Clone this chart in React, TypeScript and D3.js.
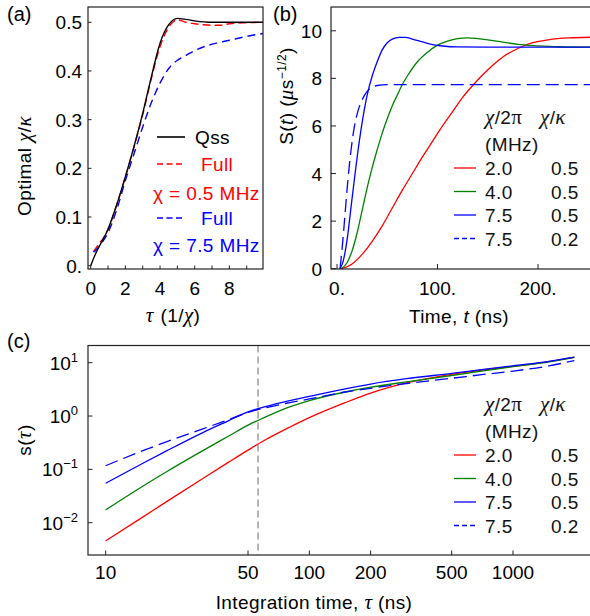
import React from "react";
import * as d3 from "d3";

// ---------- Panel (a) data ----------
const aQssTau = [0, 0.25, 0.5, 1, 1.5, 2, 2.5, 3, 3.5, 4, 4.5, 5, 5.5, 6, 7, 8, 9, 9.94];
const aQss = [0, 0.022, 0.04, 0.075, 0.125, 0.183, 0.245, 0.313, 0.388, 0.457, 0.495, 0.508, 0.506, 0.503, 0.5, 0.5, 0.5, 0.5];
const aRedTau = [0.15, 0.3, 0.5, 0.7, 1, 1.5, 2, 2.5, 3, 3.5, 4, 4.5, 5, 5.5, 6, 6.5, 7, 7.5, 8, 9, 9.94];
const aRed = [0.028, 0.036, 0.046, 0.055, 0.075, 0.125, 0.182, 0.244, 0.31, 0.385, 0.45, 0.49, 0.505, 0.5, 0.497, 0.495, 0.494, 0.494, 0.497, 0.499, 0.5];
const aBlueTau = [0.2, 0.4, 0.6, 1, 1.5, 2, 2.5, 3, 3.5, 4, 4.5, 5, 5.5, 6, 7, 8, 9, 9.94];
const aBlue = [0.028, 0.036, 0.045, 0.068, 0.115, 0.175, 0.23, 0.285, 0.335, 0.375, 0.405, 0.422, 0.432, 0.442, 0.455, 0.463, 0.471, 0.477];
const aXTicks = [0, 2, 4, 6, 8];
const aXMinor = [1, 3, 5, 7, 9];
const aYTicks = [0, 0.1, 0.2, 0.3, 0.4, 0.5];
const aYLabels = ["0.", "0.1", "0.2", "0.3", "0.4", "0.5"];

// ---------- Panel (b) data ----------
const bRedT = [5, 15, 25, 35, 45, 55, 65, 75, 85, 95, 105, 115, 125, 135, 145, 155, 165, 175, 185, 195, 210, 230, 255];
const bRed = [0, 0.2, 0.6, 1.15, 1.8, 2.55, 3.3, 4.0, 4.7, 5.35, 6.0, 6.6, 7.2, 7.7, 8.15, 8.55, 8.9, 9.15, 9.35, 9.5, 9.62, 9.7, 9.73];
const bGreenT = [4, 10, 15, 20, 25, 30, 35, 40, 45, 50, 55, 60, 65, 70, 80, 90, 100, 110, 120, 130, 140, 150, 165, 180, 200, 220, 255];
const bGreen = [0, 0.25, 0.75, 1.5, 2.45, 3.4, 4.25, 5.0, 5.7, 6.3, 6.85, 7.3, 7.74, 8.1, 8.7, 9.1, 9.4, 9.57, 9.67, 9.7, 9.67, 9.62, 9.52, 9.43, 9.37, 9.33, 9.31];
const bBlueT = [3, 6, 10, 14, 18, 22, 26, 30, 35, 40, 45, 50, 55, 62, 68, 75, 85, 95, 105, 120, 150, 255];
const bBlue = [0, 0.3, 1.2, 2.6, 4.0, 5.3, 6.4, 7.3, 8.1, 8.7, 9.2, 9.5, 9.65, 9.72, 9.72, 9.65, 9.53, 9.42, 9.36, 9.32, 9.31, 9.31];
const bDashT = [3, 5, 8, 11, 14, 17, 20, 25, 30, 35, 40, 50, 255];
const bDash = [0, 0.8, 2.3, 3.8, 5.0, 5.9, 6.5, 7.1, 7.45, 7.62, 7.7, 7.74, 7.74];
const bXTicks = [0, 100, 200];
const bXLabels = ["0.", "100.", "200."];
const bYTicks = [0, 2, 4, 6, 8, 10];

// ---------- Panel (c) data ----------
const cTau = [10, 15, 20, 30, 40, 50, 60, 80, 100, 150, 200, 300, 500, 700, 1000, 1500, 2000];
const cRed = [0.00457, 0.0123, 0.0251, 0.0676, 0.135, 0.229, 0.347, 0.617, 0.933, 1.78, 2.69, 4.17, 6.03, 7.24, 8.51, 10.5, 12.6];
const cGreen = [0.0174, 0.0468, 0.0912, 0.224, 0.417, 0.676, 0.933, 1.48, 1.95, 2.82, 3.47, 4.37, 5.75, 6.92, 8.41, 10.35, 12.6];
const cBlue = [0.055, 0.126, 0.224, 0.49, 0.813, 1.2, 1.48, 1.95, 2.34, 3.24, 3.98, 5.01, 6.3, 7.4, 8.75, 10.6, 12.7];
const cDash = [0.117, 0.219, 0.331, 0.575, 0.851, 1.17, 1.41, 1.78, 2.09, 2.82, 3.31, 4.07, 5.1, 5.95, 6.95, 8.71, 10.96];
const cVLine = 56;
const cXTicks = [10, 50, 100, 200, 500, 1000];
const cYExps = [1, 0, -1, -2];

// ---------- Legend data ----------
const legChi = ["2.0", "4.0", "7.5", "7.5"];
const legRatio = ["0.5", "0.5", "0.5", "0.2"];
const legColors = ["#ff0000", "#008000", "#0000ff", "#0000ff"];
const legDashed = [false, false, false, true];

const F = "'Liberation Sans', Arial, Helvetica, sans-serif";
const SERIF = "'Liberation Serif', 'DejaVu Serif', serif";
const FS = 19;
const LS = 0.4;
const GS = 21; // greek symbol size
const AX = "#222";

function zip(xs: number[], ys: number[]): [number, number][] {
  return xs.map((x, i) => [x, ys[i]]);
}

function Legend({ top }: { top: number }) {
  const x0 = 454, x1 = 476, tx = 485, tx2 = 551;
  return (
    <g fontFamily={F} fontSize={FS} fill="#111" letterSpacing={LS}>
      <text x={tx} y={top + 6}>
        <tspan fontFamily={SERIF} fontStyle="italic" fontSize={GS}>χ</tspan>
        <tspan>/2</tspan>
        <tspan fontFamily={SERIF} fontSize={GS}>π</tspan>
      </text>
      <text x={540} y={top + 6}>
        <tspan fontFamily={SERIF} fontStyle="italic" fontSize={GS}>χ</tspan>
        <tspan>/</tspan>
        <tspan fontFamily={SERIF} fontStyle="italic" fontSize={GS}>κ</tspan>
      </text>
      <text x={tx} y={top + 33}>(MHz)</text>
      {legChi.map((c, i) => {
        const y = top + 50 + i * 23.5;
        return (
          <g key={i}>
            <line x1={x0} x2={x1} y1={y} y2={y} stroke={legColors[i]} strokeWidth={1.3}
              strokeDasharray={legDashed[i] ? "5,3" : undefined} />
            <text x={tx} y={y + 7}>{c}</text>
            <text x={tx2} y={y + 7}>{legRatio[i]}</text>
          </g>
        );
      })}
    </g>
  );
}

export default function App() {
  // Panel a scales
  const ax = d3.scaleLinear().domain([-0.156, 9.94]).range([88, 263]);
  const ay = d3.scaleLinear().domain([-0.0068, 0.5314]).range([269, 7]);
  const aLine = d3.line<[number, number]>().x(d => ax(d[0])).y(d => ay(d[1])).curve(d3.curveMonotoneX);

  // Panel b scales
  const bx = d3.scaleLinear().domain([-5.97, 253.7]).range([331, 592]);
  const by = d3.scaleLinear().domain([-0.0126, 11.0]).range([269, 7]);
  const bLine = d3.line<[number, number]>().x(d => bx(d[0])).y(d => by(d[1])).curve(d3.curveMonotoneX);

  // Panel c scales
  const cx = d3.scaleLog().domain([8.19, 2443]).range([88, 592]);
  const cy = d3.scaleLog().domain([0.00248, 21.0]).range([555, 345.5]);
  const cLine = d3.line<[number, number]>().x(d => cx(d[0])).y(d => cy(d[1])).curve(d3.curveMonotoneX);

  return (
    <svg width={590} height={616} style={{ position: "absolute", left: 0, top: 0, background: "#fff" }}
      fontFamily={F} fontSize={FS}>
      <defs>
        <clipPath id="clipA"><rect x={88} y={7} width={175} height={262} /></clipPath>
        <clipPath id="clipB"><rect x={331} y={7} width={261} height={262} /></clipPath>
        <clipPath id="clipC"><rect x={88} y={345.5} width={504} height={209.5} /></clipPath>
      </defs>

      {/* ---------------- Panel (a) ---------------- */}
      <text x={7} y={21} fontSize={20}>(a)</text>
      <g clipPath="url(#clipA)">
        <path d={aLine(zip(aRedTau, aRed)) || ""} fill="none" stroke="#ff0000" strokeWidth={1.4} strokeDasharray="8,4" />
        <path d={aLine(zip(aBlueTau, aBlue)) || ""} fill="none" stroke="#0000ff" strokeWidth={1.4} strokeDasharray="8,5" />
        <path d={aLine(zip(aQssTau, aQss)) || ""} fill="none" stroke="#000" strokeWidth={1.4} />
      </g>
      <rect x={88} y={7} width={175} height={262} fill="none" stroke={AX} strokeWidth={1.2} />
      {aXTicks.concat(aXMinor).map((t, i) => (
        <line key={"axt" + i} x1={ax(t)} x2={ax(t)} y1={269} y2={265.5} stroke={AX} strokeWidth={1} />
      ))}
      {aXTicks.map((t, i) => (
        <text key={"axl" + i} x={ax(t)} y={295} textAnchor="middle">{t}</text>
      ))}
      {aYTicks.map((t, i) => (
        <g key={"ayt" + i}>
          <line x1={88} x2={91.5} y1={ay(t)} y2={ay(t)} stroke={AX} strokeWidth={1} />
          <text x={82} y={ay(t) + 7} textAnchor="end">{aYLabels[i]}</text>
        </g>
      ))}
      <text x={173} y={322} textAnchor="middle" letterSpacing={LS}>
        <tspan fontFamily={SERIF} fontStyle="italic" fontSize={GS}>τ</tspan>
        <tspan dx={7}>(1/</tspan>
        <tspan fontFamily={SERIF} fontStyle="italic" fontSize={GS}>χ</tspan>
        <tspan>)</tspan>
      </text>
      <text transform="translate(31,166) rotate(-90)" textAnchor="middle" letterSpacing={LS}>
        <tspan>Optimal </tspan>
        <tspan fontFamily={SERIF} fontStyle="italic" fontSize={GS}>χ</tspan>
        <tspan>/</tspan>
        <tspan fontFamily={SERIF} fontStyle="italic" fontSize={GS}>κ</tspan>
      </text>
      {/* legend a */}
      <g letterSpacing={LS}>
        <line x1={157} x2={185} y1={137} y2={137} stroke="#000" strokeWidth={1.6} />
        <text x={195} y={144}>Qss</text>
        <line x1={157} x2={182} y1={164} y2={164} stroke="#ff0000" strokeWidth={1.6} strokeDasharray="6,3.5" />
        <text x={201} y={171} fill="#ff0000">Full</text>
        <text x={153} y={200} fill="#ff0000">χ = 0.5 MHz</text>
        <line x1={157} x2={182} y1={218} y2={218} stroke="#0000ff" strokeWidth={1.6} strokeDasharray="6,3.5" />
        <text x={201} y={225} fill="#0000ff">Full</text>
        <text x={153} y={252} fill="#0000ff">χ = 7.5 MHz</text>
      </g>

      {/* ---------------- Panel (b) ---------------- */}
      <text x={273} y={21} fontSize={20}>(b)</text>
      <g clipPath="url(#clipB)">
        <path d={bLine(zip(bRedT, bRed)) || ""} fill="none" stroke="#ff0000" strokeWidth={1.3} />
        <path d={bLine(zip(bGreenT, bGreen)) || ""} fill="none" stroke="#008000" strokeWidth={1.3} />
        <path d={bLine(zip(bBlueT, bBlue)) || ""} fill="none" stroke="#0000ff" strokeWidth={1.3} />
        <path d={bLine(zip(bDashT, bDash)) || ""} fill="none" stroke="#0000ff" strokeWidth={1.3} strokeDasharray="13,6" />
      </g>
      <rect x={331} y={7} width={270} height={262} fill="none" stroke={AX} strokeWidth={1.2} />
      {bXTicks.map((t, i) => (
        <g key={"bxt" + i}>
          <line x1={bx(t)} x2={bx(t)} y1={269} y2={264} stroke={AX} strokeWidth={1} />
          <text x={bx(t)} y={295} textAnchor="middle">{bXLabels[i]}</text>
        </g>
      ))}
      {bYTicks.map((t, i) => (
        <g key={"byt" + i}>
          <line x1={331} x2={336} y1={by(t)} y2={by(t)} stroke={AX} strokeWidth={1} />
          <text x={322} y={by(t) + 7} textAnchor="end">{t}</text>
        </g>
      ))}
      <text x={459} y={323} textAnchor="middle" letterSpacing={LS}>
        <tspan>Time, </tspan>
        <tspan fontStyle="italic">t</tspan>
        <tspan> (ns)</tspan>
      </text>
      <text transform="translate(293,96) rotate(-90)" textAnchor="middle" letterSpacing={LS}>
        <tspan>S(</tspan>
        <tspan fontStyle="italic">t</tspan>
        <tspan>) (</tspan>
        <tspan fontFamily={SERIF} fontStyle="italic" fontSize={GS}>μ</tspan>
        <tspan>s</tspan>
        <tspan dy={-7} fontSize={12}>−1/2</tspan>
        <tspan dy={7}>)</tspan>
      </text>
      <Legend top={118} />

      {/* ---------------- Panel (c) ---------------- */}
      <text x={7} y={348} fontSize={20}>(c)</text>
      <g clipPath="url(#clipC)">
        <line x1={cx(cVLine)} x2={cx(cVLine)} y1={345.5} y2={555} stroke="#777" strokeWidth={1.1} strokeDasharray="7,4" />
        <path d={cLine(zip(cTau, cRed)) || ""} fill="none" stroke="#ff0000" strokeWidth={1.3} />
        <path d={cLine(zip(cTau, cGreen)) || ""} fill="none" stroke="#008000" strokeWidth={1.3} />
        <path d={cLine(zip(cTau, cBlue)) || ""} fill="none" stroke="#0000ff" strokeWidth={1.3} />
        <path d={cLine(zip(cTau, cDash)) || ""} fill="none" stroke="#0000ff" strokeWidth={1.3} strokeDasharray="13,6" />
      </g>
      <rect x={88} y={345.5} width={513} height={209.5} fill="none" stroke={AX} strokeWidth={1.2} />
      {cXTicks.map((t, i) => (
        <g key={"cxt" + i}>
          <line x1={cx(t)} x2={cx(t)} y1={555} y2={550.5} stroke={AX} strokeWidth={1} />
          <text x={cx(t)} y={579} textAnchor="middle">{t}</text>
        </g>
      ))}
      {cYExps.map((e, i) => (
        <g key={"cyt" + i}>
          <line x1={88} x2={92.5} y1={cy(Math.pow(10, e))} y2={cy(Math.pow(10, e))} stroke={AX} strokeWidth={1} />
          <text x={78} y={cy(Math.pow(10, e)) + 7} textAnchor="end">
            <tspan>10</tspan>
            <tspan dy={-8} fontSize={13}>{e < 0 ? "−" + Math.abs(e) : String(e)}</tspan>
          </text>
        </g>
      ))}
      <text x={314} y={609} textAnchor="middle" letterSpacing={LS}>
        <tspan>Integration time, </tspan>
        <tspan fontFamily={SERIF} fontStyle="italic" fontSize={GS}>τ</tspan>
        <tspan> (ns)</tspan>
      </text>
      <text transform="translate(31,440) rotate(-90)" textAnchor="middle" letterSpacing={LS}>
        <tspan>s(</tspan>
        <tspan fontFamily={SERIF} fontStyle="italic" fontSize={GS}>τ</tspan>
        <tspan>)</tspan>
      </text>
      <Legend top={405} />
    </svg>
  );
}
